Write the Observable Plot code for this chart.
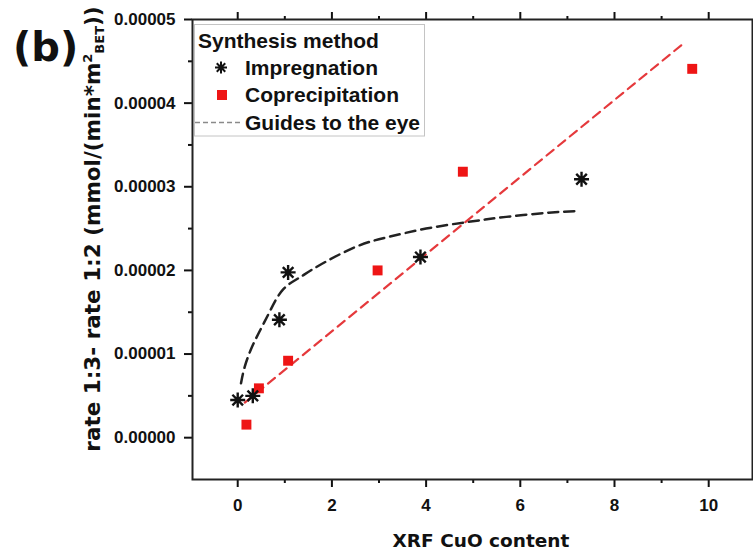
<!DOCTYPE html>
<html><head><meta charset="utf-8">
<script src="https://cdn.jsdelivr.net/npm/d3@7"></script>
<script src="https://cdn.jsdelivr.net/npm/@observablehq/plot@0.6"></script>
<style>body{margin:0;background:#fff;} #chart{width:753px;height:555px;}</style>
</head><body><div id="chart"></div>
<script>
// Impregnation (stars)
const impX = [0.0, 0.32, 0.885, 1.07, 3.88, 7.30];
const impY = [4.5e-6, 5.0e-6, 1.41e-5, 1.976e-5, 2.16e-5, 3.09e-5];
// Coprecipitation (squares)
const copX = [0.185, 0.45, 1.07, 2.97, 4.78, 9.65];
const copY = [1.56e-6, 5.9e-6, 9.2e-6, 2.0e-5, 3.18e-5, 4.41e-5];
// Guide to the eye (impregnation, curved)
const guideX = [0.07, 0.15, 0.3, 0.5, 0.7, 0.96, 1.3, 1.7, 2.5, 3.2, 4.0, 4.9, 5.7, 6.6, 7.2];
const guideY = [6.5e-6, 8.5e-6, 1.08e-5, 1.31e-5, 1.53e-5, 1.77e-5, 1.91e-5, 2.05e-5, 2.28e-5, 2.40e-5, 2.50e-5, 2.58e-5, 2.64e-5, 2.69e-5, 2.71e-5];
// Guide to the eye (coprecipitation, straight)
const fitX = [0.15, 9.5];
const fitY = [4.2e-6, 4.73e-5];
// Ticks
const xMajor = [0, 2, 4, 6, 8, 10];
const xMinor = [1, 3, 5, 7, 9];
const yMajor = [0, 1e-5, 2e-5, 3e-5, 4e-5, 5e-5];
const yMinor = [5e-6, 1.5e-5, 2.5e-5, 3.5e-5, 4.5e-5];
const legendTitle = "Synthesis method";
const seriesNames = ["Impregnation", "Coprecipitation", "Guides to the eye"];
const xTitle = "XRF CuO content";

const star8 = {
  draw(ctx, size) {
    const r = Math.sqrt(size / Math.PI), d = r * Math.SQRT1_2;
    ctx.moveTo(-r, 0); ctx.lineTo(r, 0);
    ctx.moveTo(0, -r); ctx.lineTo(0, r);
    ctx.moveTo(-d, -d); ctx.lineTo(d, d);
    ctx.moveTo(-d, d); ctx.lineTo(d, -d);
  }
};

const AR = "'Liberation Sans', Arial, sans-serif";
const DV = "'DejaVu Sans', sans-serif";
const red = "#ee1515";

const plot = Plot.plot({
  width: 753, height: 555,
  marginLeft: 192, marginRight: 1, marginTop: 19, marginBottom: 76,
  x: {domain: [-0.96, 10.93]},
  y: {domain: [-5e-6, 5e-5]},
  style: {fontFamily: AR, background: "#fff", color: "#111"},
  marks: [
    Plot.axisX({ticks: xMajor, tickSize: 8, tickPadding: 11, fontSize: 17, fontWeight: "bold", strokeWidth: 2, label: null, tickFormat: d => String(d)}),
    Plot.axisX({ticks: xMinor, tickSize: 4, fill: "none", strokeWidth: 2, label: null}),
    Plot.axisX({anchor: "top", ticks: xMajor, tickSize: 8, fill: "none", strokeWidth: 2, label: null}),
    Plot.axisX({anchor: "top", ticks: xMinor, tickSize: 4, fill: "none", strokeWidth: 2, label: null}),
    Plot.axisY({ticks: yMajor, tickSize: 8, tickPadding: 9, fontSize: 17, fontWeight: "bold", strokeWidth: 2, label: null, tickFormat: d3.format(".5f")}),
    Plot.axisY({ticks: yMinor, tickSize: 4, fill: "none", strokeWidth: 2, label: null}),
    Plot.frame({stroke: "#222", strokeWidth: 2}),
    Plot.line(guideX, {x: guideX, y: guideY, curve: "natural", stroke: "#222", strokeWidth: 2.5, strokeDasharray: "10,6"}),
    Plot.line(fitX, {x: fitX, y: fitY, stroke: "#e5393c", strokeWidth: 2.2, strokeDasharray: "9,6"}),
    Plot.dot(copX, {x: copX, y: copY, symbol: "square", r: 5.6, fill: red, stroke: "none"}),
    Plot.dot(impX, {x: impX, y: impY, symbol: star8, r: 7.5, fill: "none", stroke: "#111", strokeWidth: 2.4})
  ]
});
document.getElementById("chart").appendChild(plot);

const svg = d3.select(plot);
// Legend
const lg = svg.append("g").attr("font-family", AR).attr("font-weight", "bold").attr("font-size", 21).attr("fill", "#111").attr("text-anchor", "start");
lg.append("rect").attr("x", 194.5).attr("y", 24.5).attr("width", 230).attr("height", 111.5).attr("fill", "#fff").attr("stroke", "#c4c4c4").attr("stroke-width", 1);
lg.append("text").attr("x", 198).attr("y", 47.5).text(legendTitle);
lg.append("path").attr("transform", "translate(221,67.5)").attr("d", d3.symbol(star8, Math.PI * 36)()).attr("fill", "none").attr("stroke", "#111").attr("stroke-width", 2);
lg.append("text").attr("x", 245).attr("y", 75).text(seriesNames[0]);
lg.append("rect").attr("x", 217).attr("y", 90).attr("width", 10).attr("height", 10).attr("fill", red);
lg.append("text").attr("x", 245).attr("y", 102).text(seriesNames[1]);
lg.append("line").attr("x1", 195).attr("x2", 241).attr("y1", 122.5).attr("y2", 122.5).attr("stroke", "#8a8a8a").attr("stroke-width", 1.5).attr("stroke-dasharray", "5,3");
lg.append("text").attr("x", 245).attr("y", 129.5).text(seriesNames[2]);

// Axis titles
svg.append("text").attr("x", 481).attr("y", 547).attr("text-anchor", "middle")
  .attr("font-family", DV).attr("font-weight", "bold").attr("font-size", 18.5).attr("fill", "#111").text(xTitle);

const yt = svg.append("text").attr("transform", "translate(100,229) rotate(-90)").attr("text-anchor", "middle")
  .attr("font-family", DV).attr("font-weight", "bold").attr("font-size", 21.5).attr("fill", "#111");
yt.append("tspan").text("rate 1:3- rate 1:2 (mmol/(min*m");
yt.append("tspan").attr("font-size", 13).attr("dy", -8).text("2");
yt.append("tspan").attr("font-size", 13).attr("dy", 12).text("BET");
yt.append("tspan").attr("dy", -4).text("))");

svg.append("text").attr("x", 13).attr("y", 61).attr("text-anchor", "start").attr("font-family", DV).attr("font-weight", "bold").attr("font-size", 40).attr("fill", "#111").text("(b)");
</script>
</body></html>
